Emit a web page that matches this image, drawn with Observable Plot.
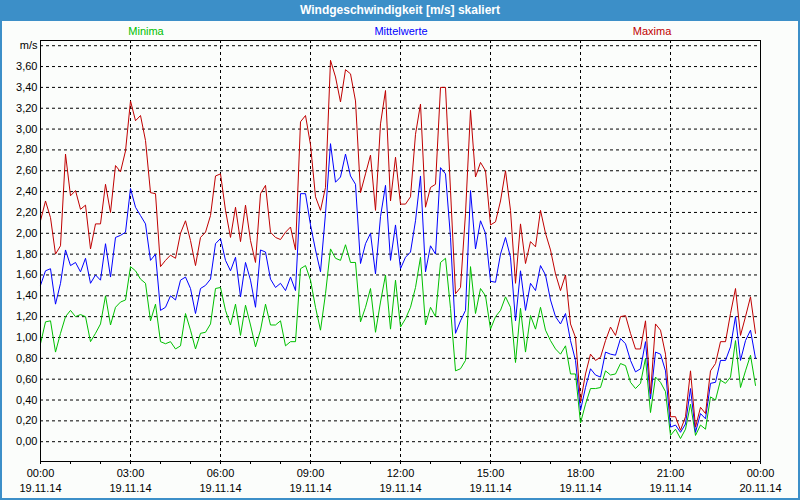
<!DOCTYPE html>
<html>
<head>
<meta charset="utf-8">
<script src="https://cdn.jsdelivr.net/npm/d3@7"></script>
<script src="https://cdn.jsdelivr.net/npm/@observablehq/plot@0.6"></script>
<style>
  html, body { margin: 0; padding: 0; background: #ffffff; }
  #wrap { position: relative; width: 800px; height: 500px; background: #3c8fc8; overflow: hidden;
          font-family: "Liberation Sans", Arial, sans-serif; }
  #title { position: absolute; left: 0; top: 0; width: 800px; height: 21px; line-height: 21px;
           color: #ffffff; font-weight: bold; font-size: 12px; text-align: center; }
  #inner { position: absolute; left: 2px; right: 2px; top: 21px; bottom: 2px; background: #fbfdfb; }
  #legend span { position: absolute; top: 25px; font-size: 11px; transform: translateX(-50%); white-space: nowrap; }
  #chart { position: absolute; left: 0; top: 21px; }
</style>
</head>
<body>
<div id="wrap">
  <div id="title">Windgeschwindigkeit [m/s] skaliert</div>
  <div id="inner"></div>
  <div id="legend"></div>
  <div id="chart"></div>
</div>
<script>
const seriesNames = ["Minima", "Mittelwerte", "Maxima"];
const seriesColors = ["#00c000", "#0000ff", "#c00000"];
const legendCenters = [146, 401, 652];

const maxima = [
2.12,2.31,2.15,1.80,1.88,2.76,2.36,2.41,2.23,2.27,1.85,2.09,2.09,2.47,2.20,2.65,2.59,2.79,3.27,
3.08,3.13,2.89,2.39,2.38,1.68,1.74,1.79,1.76,2.00,2.12,1.93,1.69,1.96,2.01,2.17,2.55,2.57,
2.22,1.96,2.25,1.92,2.27,1.93,1.72,2.38,2.46,2.01,1.96,1.94,2.01,2.06,1.84,3.07,3.13,2.85,
2.35,2.22,2.44,3.66,3.50,3.26,3.57,3.53,3.27,2.39,2.57,2.75,2.22,3.05,3.37,2.31,2.73,2.28,
2.28,2.35,2.95,3.24,2.25,2.44,2.47,3.40,3.40,2.41,1.42,1.48,2.19,3.18,2.54,2.68,2.60,2.08,
2.11,2.31,2.60,2.22,1.52,2.09,1.71,1.92,1.87,2.22,2.00,1.84,1.61,1.45,1.60,1.13,1.00,0.38,
0.65,0.84,0.78,0.81,0.97,1.10,1.02,1.20,1.21,1.04,0.89,0.89,1.16,0.46,1.13,1.07,0.84,0.24,
0.24,0.11,0.24,0.68,0.14,0.33,0.27,0.68,0.75,0.96,0.96,1.23,1.47,1.02,1.20,1.39,1.04];

const mittelwerte = [
1.50,1.64,1.66,1.32,1.52,1.84,1.69,1.72,1.63,1.76,1.52,1.60,1.55,1.90,1.58,1.96,1.98,2.01,2.43,
2.25,2.17,2.09,1.74,1.80,1.26,1.29,1.40,1.36,1.55,1.58,1.47,1.23,1.47,1.50,1.56,1.90,1.95,
1.74,1.64,1.77,1.39,1.72,1.55,1.29,1.84,1.82,1.56,1.48,1.52,1.45,1.58,1.45,2.38,2.38,2.08,
1.84,1.63,2.19,2.86,2.49,2.54,2.76,2.55,2.47,1.71,1.90,2.00,1.61,2.16,2.46,1.74,2.08,1.66,
1.77,1.82,2.12,2.55,1.63,1.88,1.80,2.63,2.57,1.96,1.04,1.16,1.26,2.41,1.85,2.12,2.00,1.54,
1.53,1.80,1.96,1.77,1.16,1.64,1.26,1.52,1.45,1.69,1.60,1.36,1.20,1.13,1.23,0.97,0.78,0.30,
0.52,0.70,0.64,0.62,0.86,0.84,0.83,0.99,0.94,0.78,0.67,0.70,0.96,0.41,0.86,0.84,0.68,0.14,
0.16,0.09,0.17,0.51,0.09,0.27,0.22,0.56,0.57,0.78,0.78,0.91,1.20,0.78,0.97,1.07,0.80];

const minima = [
0.94,1.15,1.16,0.86,1.04,1.20,1.26,1.20,1.22,1.20,0.96,1.04,1.13,1.40,1.12,1.29,1.34,1.36,1.68,
1.64,1.56,1.52,1.16,1.32,0.96,0.94,0.96,0.89,0.92,1.23,1.07,0.89,1.04,1.05,1.13,1.47,1.48,
1.26,1.12,1.32,1.02,1.31,1.12,0.91,1.07,1.32,1.12,1.12,1.16,0.92,0.96,0.96,1.66,1.69,1.55,
1.29,1.07,1.42,1.85,1.76,1.74,1.89,1.72,1.72,1.15,1.29,1.47,1.05,1.34,1.60,1.08,1.55,1.10,
1.18,1.29,1.48,1.77,1.12,1.29,1.20,1.72,1.76,1.28,0.68,0.70,0.78,1.68,1.23,1.47,1.40,1.08,
1.20,1.26,1.39,1.29,0.76,1.28,0.86,1.21,1.08,1.29,1.07,0.97,0.89,0.84,0.92,0.65,0.65,0.18,
0.36,0.51,0.51,0.52,0.68,0.64,0.65,0.75,0.73,0.57,0.51,0.56,0.80,0.28,0.62,0.57,0.48,0.06,
0.12,0.03,0.12,0.36,0.06,0.16,0.12,0.43,0.40,0.59,0.56,0.62,0.97,0.52,0.68,0.83,0.54];

const yTickValues = [0,0.2,0.4,0.6,0.8,1.0,1.2,1.4,1.6,1.8,2.0,2.2,2.4,2.6,2.8,3.0,3.2,3.4,3.6,3.8];
const unitLabel = "m/s";

const start = new Date(Date.UTC(2014, 10, 19, 0, 0));
const end = new Date(Date.UTC(2014, 10, 20, 0, 0));
const times = maxima.map((_, i) => d3.utcMinute.offset(start, i * 10));
const rows = [];
[minima, mittelwerte, maxima].forEach((arr, s) => {
  arr.forEach((v, i) => rows.push({series: seriesNames[s], time: times[i], value: v}));
});

const majorTicks = d3.utcHour.every(3).range(start, d3.utcMinute.offset(end, 1));
const innerTicks = majorTicks.filter(d => +d !== +start && +d !== +end);
const hourTicks = d3.utcHour.every(1).range(start, d3.utcMinute.offset(end, 1));
const fmtTime = d3.utcFormat("%H:%M");
const fmtDate = d3.utcFormat("%d.%m.%y");
const fmtY = v => Math.abs(v - 3.8) < 1e-9 ? unitLabel : d3.format(".2f")(v).replace(".", ",");

// legend
const legend = document.getElementById("legend");
seriesNames.forEach((n, i) => {
  const s = document.createElement("span");
  s.textContent = n;
  s.style.left = legendCenters[i] + "px";
  s.style.color = seriesColors[i];
  legend.appendChild(s);
});

const chart = Plot.plot({
  width: 800,
  height: 477,
  marginLeft: 40,
  marginRight: 40,
  marginTop: 19,
  marginBottom: 37,
  style: {fontFamily: "Liberation Sans, Arial, sans-serif", fontSize: "11px", color: "#000", background: "transparent", overflow: "visible"},
  x: {type: "utc", domain: [start, end]},
  y: {domain: [-0.19, 3.85]},
  color: {domain: seriesNames, range: seriesColors},
  marks: [
    Plot.gridY(yTickValues, {stroke: "#000", strokeOpacity: 1, strokeDasharray: "3,3"}),
    Plot.gridX(innerTicks, {stroke: "#000", strokeOpacity: 1, strokeDasharray: "3,3"}),
    Plot.axisY(yTickValues, {tickSize: 0, tickPadding: 3, tickFormat: fmtY, label: null}),
    Plot.axisX(hourTicks, {tickSize: 3, tickFormat: () => "", label: null}),
    Plot.axisX(majorTicks, {tickSize: 0, tickPadding: 8, tickFormat: fmtTime, label: null}),
    Plot.axisX(majorTicks, {tickSize: 0, tickPadding: 23, tickFormat: fmtDate, label: null}),
    Plot.lineY(rows, {x: "time", y: "value", z: "series", stroke: "series", strokeWidth: 1}),
    Plot.frame({stroke: "#000", strokeWidth: 1})
  ]
});
document.getElementById("chart").appendChild(chart);
</script>
</body>
</html>
